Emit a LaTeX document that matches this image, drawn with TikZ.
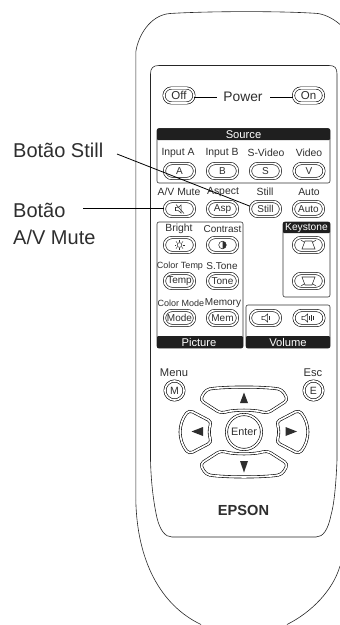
\documentclass[tikz,border=0pt]{standalone}
\usepackage{fontspec}
\setmainfont{Liberation Sans}
\definecolor{ink}{gray}{0.18}
\tikzset{
  x=1pt,y=-1pt,
  outl/.style={draw=black!85,line width=0.6pt},
  dbl/.style={draw=black,line width=0.6pt,double=white,double distance=1.7pt},
  btn/.style={dbl,rectangle,rounded corners=7.5pt,minimum width=30pt,minimum height=15pt,inner sep=0pt,font=\fontsize{10}{10}\selectfont,text=ink},
  cbtn/.style={dbl,circle,inner sep=0pt,font=\fontsize{10.5}{10}\selectfont,text=ink},
  lab/.style={font=\fontsize{10.4}{10}\selectfont,inner sep=0pt,text=ink},
  smlab/.style={font=\fontsize{9}{10}\selectfont,inner sep=0pt,text=ink},
  call/.style={font=\fontsize{20}{22}\selectfont,inner sep=0pt,anchor=west,text=ink},
  bandt/.style={font=\fontsize{11.2}{10}\selectfont,text=white,inner sep=0pt},
  panel/.style={draw=black!80,line width=0.6pt,rounded corners=2pt},
  icon/.style={draw=ink,line width=0.55pt},
  pad/.style={dbl,fill=white}
}
\colorlet{bandc}{black!88}
\newcommand{\btnat}[4]{\node[btn] (#1) at (#2,#3) {#4};}
\newcommand{\spk}[2]{\draw[icon] (#1-3,#2-1.7)--(#1,#2-1.7)--(#1+2.6,#2-4)--(#1+2.6,#2+4)--(#1,#2+1.7)--(#1-3,#2+1.7)--cycle;}
\begin{document}
\begin{tikzpicture}
\useasboundingbox (0,0) rectangle (340,625);
% outer outline
\draw[outl] (135.8,500) -- (135.8,52) .. controls (138,36) and (150,15) .. (170,13.5)
  .. controls (210,11) and (285,11) .. (318,13.5) .. controls (327,15) and (335,20) .. (340,24.5);
\draw[outl] (135.8,500) .. controls (137,560) and (160,605) .. (201,624.5);
\draw[outl] (287,624.5) .. controls (312,612) and (333,590) .. (340,566);
% inner panel
\draw[outl] (150.5,460) -- (150.5,74) .. controls (150.5,68) and (153,65.5) .. (159,65.5) -- (329,65.5)
  .. controls (335,65.5) and (337,68) .. (337,74) -- (337,460)
  .. controls (336,485) and (334,505) .. (331,515) .. controls (328,530) and (323,537) .. (316,537)
  -- (172,537) .. controls (165,537) and (160,530) .. (157,518)
  .. controls (153,500) and (151,480) .. (150.5,460);
% Power
\btnat{off}{179}{95.5}{\fontsize{11.5}{10}\selectfont Off}
\btnat{on}{308.5}{95.5}{\fontsize{11.5}{10}\selectfont On}
\node[font=\fontsize{13.8}{13}\selectfont,inner sep=0pt,text=ink] (pw) at (243,97) {Power};
\coordinate (pl) at (217,97);
\coordinate (pr) at (270,97);
\draw[line width=0.6pt] (off.east) ++(0,1.5) -- (pl);
\draw[line width=0.6pt] (pr) -- ([yshift=-1.5pt]on.west);
% Source
\draw[panel] (157,128.5) rectangle (330,183);
\fill[bandc,rounded corners=1pt] (157,128.5) rectangle (330,140);
\node[bandt] at (243.5,135) {Source};
\node[lab] at (178,153) {Input A};
\node[lab] at (222,153) {Input B};
\node[lab] at (266,153) {S-Video};
\node[lab] at (309,153) {Video};
\btnat{a}{179.5}{171}{A}
\btnat{b}{222.5}{171}{B}
\btnat{s}{265.5}{171}{S}
\btnat{v}{309}{171}{V}
% second row
\node[lab] at (179,192) {A/V Mute};
\node[lab] at (223,192) {Aspect};
\node[lab] at (265,192) {Still};
\node[lab] at (309,192) {Auto};
\btnat{mute}{179.5}{209}{}
\btnat{asp}{222.5}{209}{Asp}
\btnat{still}{265.5}{209}{Still}
\btnat{auto}{308.5}{209}{Auto}
% Picture
\draw[panel] (157,222) rectangle (243,348);
\fill[bandc,rounded corners=1pt] (157,336) rectangle (243,348);
\node[bandt] at (199,342) {Picture};
\node[lab] at (179,229) {Bright};
\node[lab,font=\fontsize{10}{10}\selectfont] at (222.5,229) {Contrast};
\node[smlab] at (180,266) {Color Temp};
\node[lab,font=\fontsize{10}{10}\selectfont] at (222,266) {S.Tone};
\node[smlab] at (181,303) {Color Mode};
\node[lab,font=\fontsize{10}{10}\selectfont] at (223,303) {Memory};
\btnat{br}{179.5}{245}{}
\btnat{co}{222.5}{245}{}
\btnat{tm}{179.5}{281}{Temp}
\btnat{tn}{222.5}{281}{Tone}
\btnat{md}{179.5}{318}{Mode}
\btnat{mm}{222.5}{318}{Mem}
% sun
\draw[icon] (179.5,245) circle (2.4pt);
\foreach \a in {0,45,...,315}\draw[icon] (179.5,245)++(\a:3.4pt)--++(\a:1.6pt);
% contrast
\draw[icon] (222.5,245) circle (3.8pt);
\fill[ink] (222.5,241.2) arc[start angle=90,end angle=-90,radius=3.8pt] -- cycle;
% Keystone
\draw[panel] (283,222) rectangle (330,297);
\fill[bandc,rounded corners=1pt] (283,222) rectangle (330,233);
\node[bandt,font=\fontsize{10.2}{10}\selectfont] at (306.5,228) {Keystone};
\btnat{k1}{308.5}{245}{}
\btnat{k2}{308.5}{281}{}
\draw[icon] (305,241)--(312,241)--(315,249)--(302,249)--cycle (301,240)--(304,242) (316,240)--(313,242);
\draw[icon] (302,277)--(315,277)--(312,285)--(305,285)--cycle (301,286)--(304,284) (316,286)--(313,284);
% Volume
\draw[panel] (246,305) rectangle (330,348);
\fill[bandc,rounded corners=1pt] (246,336) rectangle (330,348);
\node[bandt] at (288,342) {Volume};
\btnat{v1}{265.5}{318}{}
\btnat{v2}{309}{318}{}
\spk{265}{318}
\draw[icon] (269.5,316)--(269.5,320);
\spk{305}{318}
\draw[icon] (309.5,316)--(309.5,320) (311.3,315)--(311.3,321) (313.1,316)--(313.1,320);
% mute icon
\spk{178.5}{209}
\draw[icon] (176,204.5)--(184,213.5);
% Menu / Esc
\node[lab,font=\fontsize{11.2}{10}\selectfont] at (174,373) {Menu};
\node[lab,font=\fontsize{11.2}{10}\selectfont] at (313,373) {Esc};
\node[cbtn,minimum size=19pt] (m) at (174.5,390.5) {M};
\node[cbtn,minimum size=19pt] (e) at (313.5,390.5) {E};
% D-pad
\draw[pad,rounded corners=4pt] (200,400) -- (206,389.5) .. controls (225,386.5) and (263,386.5) .. (282,389.5) -- (288,400)
 -- (267,413.5) .. controls (255,409.5) and (233,409.5) .. (221,413.5) -- cycle;
\draw[pad,rounded corners=4pt] (200,464) -- (206,474.5) .. controls (225,477.5) and (263,477.5) .. (282,474.5) -- (288,464)
 -- (267,450.5) .. controls (255,454.5) and (233,454.5) .. (221,450.5) -- cycle;
\draw[pad,rounded corners=4pt] (189,410) .. controls (178,424) and (178,440) .. (189,454)
 -- (212,442) .. controls (209,436) and (209,428) .. (212,422) -- cycle;
\draw[pad,rounded corners=4pt] (299,410) .. controls (310,424) and (310,440) .. (299,454)
 -- (276,442) .. controls (279,436) and (279,428) .. (276,422) -- cycle;
\node[cbtn,fill=white,minimum size=35pt,font=\fontsize{10.8}{10}\selectfont] (enter) at (244,432) {Enter};
\fill[ink] (244,392.5) -- (240,403) -- (248,403) -- cycle;
\fill[ink] (244,472.5) -- (240,461) -- (248,461) -- cycle;
\fill[ink] (191.5,431.5) -- (203,427) -- (203,436) -- cycle;
\fill[ink] (297,431.5) -- (285.5,427) -- (285.5,436) -- cycle;
\node[font=\bfseries\fontsize{14.6}{14}\selectfont,inner sep=0pt,text=ink] (ep) at (243.5,510) {EPSON};
% Callouts
\node[call] (l1) at (13,150) {Botão Still};
\node[call] (l2) at (13,210.5) {Botão};
\node[call] (l3) at (13,237) {A/V Mute};
\coordinate (s1) at (117,154);
\coordinate (s2) at (83,208.5);
\draw[line width=.8pt,black] (s1) -- (still.170);
\draw[line width=1.1pt,black] (s2) -- (mute.west |- s2);
\end{tikzpicture}
\end{document}
